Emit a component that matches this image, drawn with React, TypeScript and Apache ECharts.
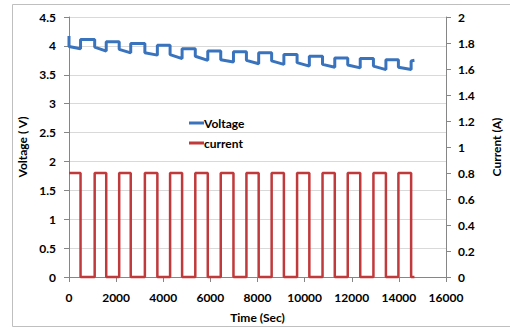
import React, { useEffect, useRef } from "react";
import * as echarts from "echarts";

// Time (s) at which each current pulse switches on and off
const pulseStart = [0, 1090, 2130, 3220, 4290, 5360, 6440, 7530, 8600, 9680, 10760, 11830, 12920, 13980];
const pulseEnd = [490, 1580, 2620, 3750, 4800, 5890, 6980, 8050, 9120, 10200, 11280, 12360, 13450, 14520];
const endTime = 14660;
const pulseCurrent = 0.8; // A

// Voltage (V) readings per cycle
const initialVoltage = 4.17;
const voltageLoadStart = [3.99, 3.98, 3.94, 3.88, 3.85, 3.82, 3.76, 3.75, 3.74, 3.71, 3.68, 3.67, 3.65, 3.63];
const voltageLoadEnd = [3.95, 3.91, 3.88, 3.84, 3.78, 3.75, 3.72, 3.69, 3.68, 3.65, 3.63, 3.62, 3.59, 3.59];
const voltageRest = [4.11, 4.07, 4.04, 4.01, 3.95, 3.91, 3.9, 3.88, 3.85, 3.82, 3.79, 3.78, 3.76, 3.74];
const finalVoltage = 3.75;

const xTicks = { min: 0, max: 16000, interval: 2000 };
const vTicks = { min: 0, max: 4.5, interval: 0.5 };
const aTicks = { min: 0, max: 2, interval: 0.2 };

export default function App() {
  const ref = useRef<HTMLDivElement>(null);
  useEffect(() => {
    if (!ref.current) return;
    const chart = echarts.init(ref.current, undefined, { renderer: "svg" });

    const currentData: number[][] = [];
    pulseStart.forEach((s, i) => {
      if (i > 0) currentData.push([s, 0]);
      currentData.push([s, pulseCurrent]);
      currentData.push([pulseEnd[i], pulseCurrent]);
      currentData.push([pulseEnd[i], 0]);
    });
    currentData.push([endTime, 0]);

    const voltageData: number[][] = [];
    let prev = initialVoltage;
    pulseStart.forEach((s, i) => {
      voltageData.push([s, prev]);
      voltageData.push([s, voltageLoadStart[i]]);
      voltageData.push([pulseEnd[i], voltageLoadEnd[i]]);
      voltageData.push([pulseEnd[i], voltageRest[i]]);
      prev = voltageRest[i];
    });
    voltageData.push([endTime, finalVoltage]);

    const font = "Lato";
    const axisLineStyle = { color: "#868686", width: 1 };
    const labelStyle = { color: "#000", fontFamily: font, fontWeight: "bold" as const, fontSize: 12 };

    chart.setOption({
      animation: false,
      backgroundColor: "#fff",
      graphic: [
        {
          type: "rect",
          shape: { x: 12.5, y: 4.5, width: 510, height: 322 },
          style: { fill: "none", stroke: "#bfbfbf", lineWidth: 1 },
          silent: true,
        },
      ],
      grid: { left: 69, right: 58, top: 17, bottom: 50 },
      legend: {
        orient: "vertical",
        left: 184,
        top: 111,
        itemGap: 6,
        itemWidth: 15,
        itemHeight: 3,
        textStyle: { ...labelStyle, padding: [0, 0, 0, -5], lineHeight: 14 },
        data: [
          { name: "Voltage", icon: "rect" },
          { name: "current", icon: "rect" },
        ],
      },
      xAxis: {
        type: "value",
        ...xTicks,
        name: "Time (Sec)",
        nameLocation: "middle",
        nameGap: 34,
        nameTextStyle: labelStyle,
        axisLine: { show: true, lineStyle: axisLineStyle },
        axisTick: { show: true, length: 5, lineStyle: axisLineStyle },
        axisLabel: { ...labelStyle, margin: 14, formatter: (v: number) => String(v) },
        splitLine: { show: false },
      },
      yAxis: [
        {
          type: "value",
          ...vTicks,
          position: "left",
          name: "Voltage ( V)",
          nameLocation: "middle",
          nameGap: 40,
          nameRotate: 90,
          nameTextStyle: labelStyle,
          axisLine: { show: true, lineStyle: axisLineStyle },
          axisTick: { show: true, length: 5, lineStyle: axisLineStyle },
          axisLabel: { ...labelStyle, margin: 13 },
          splitLine: { show: true, lineStyle: { color: "#d9d9d9", width: 1 } },
        },
        {
          type: "value",
          ...aTicks,
          position: "right",
          name: "Current (A)",
          nameLocation: "middle",
          nameGap: 44,
          nameRotate: 90,
          nameTextStyle: labelStyle,
          axisLine: { show: true, lineStyle: axisLineStyle },
          axisTick: { show: true, length: 5, lineStyle: axisLineStyle },
          axisLabel: { ...labelStyle, margin: 12 },
          splitLine: { show: false },
        },
      ],
      series: [
        {
          name: "Voltage",
          type: "line",
          yAxisIndex: 0,
          data: voltageData,
          showSymbol: false,
          symbol: "none",
          clip: false,
          lineStyle: { color: "#3a73bd", width: 3 },
          itemStyle: { color: "#3a73bd" },
        },
        {
          name: "current",
          type: "line",
          yAxisIndex: 1,
          data: currentData,
          showSymbol: false,
          symbol: "none",
          clip: false,
          lineStyle: { color: "#c0393b", width: 2.5 },
          itemStyle: { color: "#c0393b" },
        },
      ],
    });
    return () => chart.dispose();
  }, []);
  return (
    <div
      ref={ref}
      style={{ position: "absolute", left: 0, top: 0, width: 510, height: 328 }}
    />
  );
}
